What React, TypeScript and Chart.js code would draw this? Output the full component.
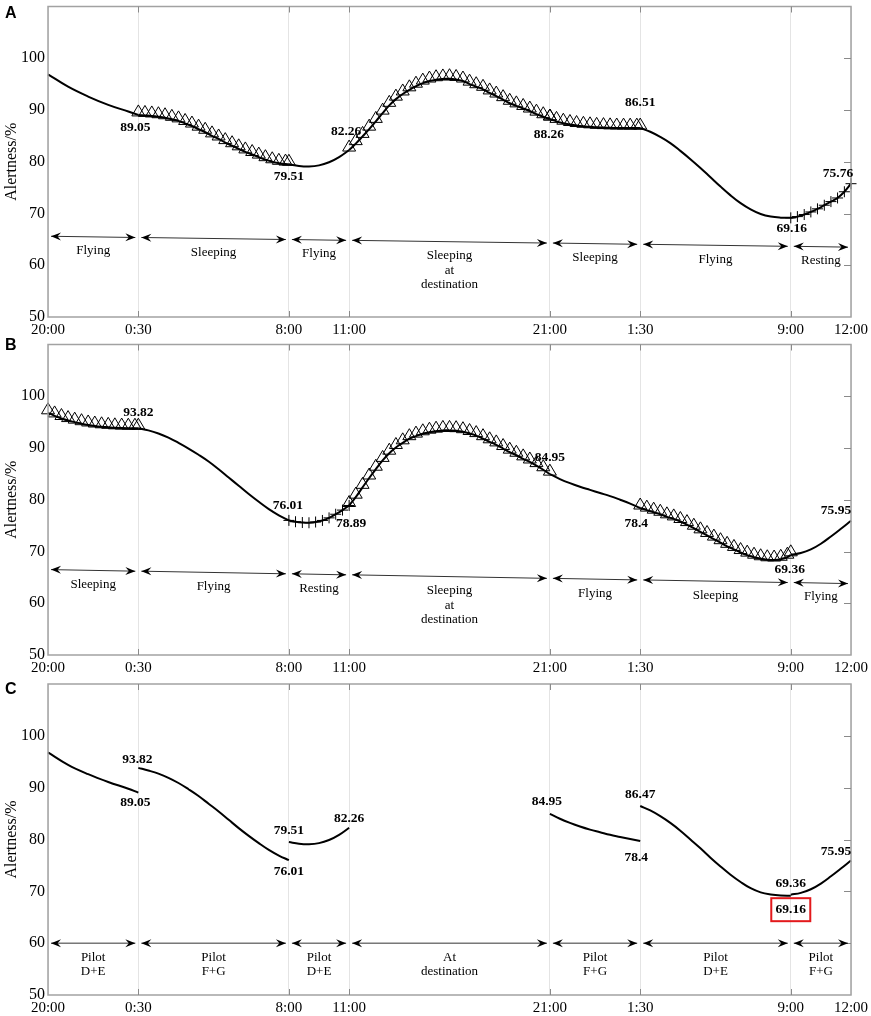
import React, { useEffect, useRef } from 'react';
import { Chart, registerables } from 'chart.js';

Chart.register(...registerables);

// x axis is hours counted from 20:00 on day one
const xTickHours = [0, 4.5, 12, 15, 25, 29.5, 37, 40];
const xTickLabels = ['20:00', '0:30', '8:00', '11:00', '21:00', '1:30', '9:00', '12:00'];
const yTickValues = [50, 60, 70, 80, 90, 100];

// ---- panel A ----
const aFly1Hours = [0, 1, 2, 3, 4, 4.5];
const aFly1Values = [96.9, 94.5, 92.6, 91.0, 89.7, 89.05];
const aSleep1Hours = [4.5, 4.83, 5.17, 5.5, 5.83, 6.17, 6.5, 6.83, 7.17, 7.5, 7.83, 8.17, 8.5, 8.83, 9.17, 9.5, 9.83, 10.17, 10.5, 10.83, 11.17, 11.5, 11.83, 12];
const aSleep1Values = [89.05, 88.95, 88.85, 88.7, 88.5, 88.2, 87.9, 87.4, 86.9, 86.3, 85.7, 85.0, 84.4, 83.7, 83.1, 82.5, 81.9, 81.4, 80.9, 80.4, 80.0, 79.7, 79.55, 79.51];
const aFly2Hours = [12, 12.5, 13, 13.5, 14, 14.5, 15];
const aFly2Values = [79.51, 79.2, 79.1, 79.3, 79.9, 80.9, 82.26];
const aSleep2Hours = [15, 15.33, 15.67, 16, 16.33, 16.67, 17, 17.33, 17.67, 18, 18.33, 18.67, 19, 19.33, 19.67, 20, 20.33, 20.67, 21, 21.33, 21.67, 22, 22.33, 22.67, 23, 23.33, 23.67, 24, 24.33, 24.67, 25];
const aSleep2Values = [82.26, 83.5, 84.9, 86.3, 87.8, 89.4, 90.9, 92.1, 93.1, 93.9, 94.6, 95.2, 95.6, 95.85, 96.0, 96.05, 95.9, 95.6, 95.0, 94.5, 94.0, 93.3, 92.7, 92.0, 91.3, 90.8, 90.3, 89.8, 89.2, 88.7, 88.26];
const aSleep3Hours = [25, 25.33, 25.67, 26, 26.33, 26.67, 27, 27.33, 27.67, 28, 28.33, 28.67, 29, 29.33, 29.5];
const aSleep3Values = [88.26, 87.8, 87.45, 87.2, 87.0, 86.85, 86.75, 86.65, 86.6, 86.55, 86.52, 86.5, 86.5, 86.5, 86.51];
const aFly3Hours = [29.5, 30, 30.5, 31, 31.5, 32, 32.5, 33, 33.5, 34, 34.5, 35, 35.5, 36, 36.5, 37];
const aFly3Values = [86.51, 85.8, 84.8, 83.6, 82.1, 80.5, 78.8, 77.0, 75.2, 73.5, 72.0, 70.8, 69.9, 69.4, 69.2, 69.16];
const aRestHours = [37, 37.33, 37.67, 38, 38.33, 38.67, 39, 39.33, 39.67, 40];
const aRestValues = [69.16, 69.4, 69.8, 70.3, 70.9, 71.6, 72.3, 73.0, 74.2, 75.76];
const aPhases = ['Flying', 'Sleeping', 'Flying', 'Sleeping\nat\ndestination', 'Sleeping', 'Flying', 'Resting'];

// ---- panel B ----
const bSleep1Hours = [0, 0.33, 0.67, 1, 1.33, 1.67, 2, 2.33, 2.67, 3, 3.33, 3.67, 4, 4.33, 4.5];
const bSleep1Values = [96.8, 96.2, 95.7, 95.3, 95.0, 94.7, 94.45, 94.25, 94.1, 94.0, 93.9, 93.85, 93.82, 93.82, 93.82];
const bFly1Hours = [4.5, 5, 5.5, 6, 6.5, 7, 7.5, 8, 8.5, 9, 9.5, 10, 10.5, 11, 11.5, 12];
const bFly1Values = [93.82, 93.4, 92.8, 92.0, 91.0, 89.9, 88.7, 87.4, 85.9, 84.3, 82.7, 81.1, 79.6, 78.2, 77.0, 76.01];
const bRestHours = [12, 12.33, 12.67, 13, 13.33, 13.67, 14, 14.33, 14.67, 15];
const bRestValues = [76.01, 75.75, 75.6, 75.55, 75.7, 76.0, 76.5, 77.2, 78.0, 78.89];
const bSleep2Hours = [15, 15.33, 15.67, 16, 16.33, 16.67, 17, 17.33, 17.67, 18, 18.33, 18.67, 19, 19.33, 19.67, 20, 20.33, 20.67, 21, 21.33, 21.67, 22, 22.33, 22.67, 23, 23.33, 23.67, 24, 24.33, 24.67, 25];
const bSleep2Values = [78.89, 80.5, 82.4, 84.2, 85.9, 87.6, 89.0, 90.1, 91.0, 91.8, 92.3, 92.75, 93.05, 93.25, 93.4, 93.4, 93.35, 93.15, 92.8, 92.4, 91.8, 91.2, 90.6, 89.9, 89.2, 88.6, 87.9, 87.3, 86.6, 85.8, 84.95];
const bFly2Hours = [25, 25.5, 26, 26.5, 27, 27.5, 28, 28.5, 29, 29.5];
const bFly2Values = [84.95, 84.0, 83.2, 82.5, 81.9, 81.3, 80.7, 80.0, 79.25, 78.4];
const bSleep3Hours = [29.5, 29.83, 30.17, 30.5, 30.83, 31.17, 31.5, 31.83, 32.17, 32.5, 32.83, 33.17, 33.5, 33.83, 34.17, 34.5, 34.83, 35.17, 35.5, 35.83, 36.17, 36.5, 36.83, 37];
const bSleep3Values = [78.4, 78.0, 77.6, 77.2, 76.7, 76.3, 75.8, 75.2, 74.5, 73.8, 73.1, 72.4, 71.7, 71.0, 70.4, 69.8, 69.3, 68.9, 68.6, 68.4, 68.35, 68.5, 68.9, 69.36];
const bFly3Hours = [37, 37.5, 38, 38.5, 39, 39.5, 40];
const bFly3Values = [69.36, 69.7, 70.4, 71.5, 72.9, 74.4, 75.95];
const bPhases = ['Sleeping', 'Flying', 'Resting', 'Sleeping\nat\ndestination', 'Flying', 'Sleeping', 'Flying'];

// ---- panel C ----
const c1Hours = [0, 1, 2, 3, 4, 4.5];
const c1Values = [96.8, 94.4, 92.6, 91.1, 89.8, 89.05];
const c2Hours = [4.5, 5, 5.5, 6, 6.5, 7, 7.5, 8, 8.5, 9, 9.5, 10, 10.5, 11, 11.5, 12];
const c2Values = [93.82, 93.3, 92.7, 91.9, 90.9, 89.7, 88.4, 86.9, 85.4, 83.8, 82.2, 80.7, 79.3, 78.0, 76.9, 76.01];
const c3Hours = [12, 12.5, 13, 13.5, 14, 14.5, 15];
const c3Values = [79.51, 79.2, 79.1, 79.3, 79.9, 80.9, 82.26];
const c4Hours = [25, 25.5, 26, 26.5, 27, 27.5, 28, 28.5, 29, 29.5];
const c4Values = [84.95, 84.0, 83.2, 82.5, 81.9, 81.4, 80.9, 80.5, 80.1, 79.7];
const c5Hours = [29.5, 30, 30.5, 31, 31.5, 32, 32.5, 33, 33.5, 34, 34.5, 35, 35.5, 36, 36.5, 37];
const c5Values = [86.47, 85.6, 84.5, 83.2, 81.7, 80.0, 78.3, 76.5, 74.8, 73.2, 71.8, 70.6, 69.8, 69.4, 69.2, 69.16];
const c6Hours = [37, 37.5, 38, 38.5, 39, 39.5, 40];
const c6Values = [69.36, 69.7, 70.4, 71.5, 72.9, 74.4, 75.95];
const cPhases = ['Pilot\nD+E', 'Pilot\nF+G', 'Pilot\nD+E', 'At\ndestination', 'Pilot\nF+G', 'Pilot\nD+E', 'Pilot\nF+G'];

type Marker = 'none' | 'triangle' | 'cross';
type Segment = { hours: number[]; values: number[]; marker: Marker };
type Note = { text: string; at: number; dx: number; dy: number; boxed?: boolean };
type Panel = {
  letter: string;
  letterDy: number;
  top: number;
  segments: Segment[];
  phases: string[];
  arrowFrom: number;
  arrowTo: number;
  notes: Note[];
};

const panels: Panel[] = [
  {
    letter: 'A', letterDy: 7.5, top: 0,
    segments: [
      { hours: aFly1Hours, values: aFly1Values, marker: 'none' },
      { hours: aSleep1Hours, values: aSleep1Values, marker: 'triangle' },
      { hours: aFly2Hours, values: aFly2Values, marker: 'none' },
      { hours: aSleep2Hours, values: aSleep2Values, marker: 'triangle' },
      { hours: aSleep3Hours, values: aSleep3Values, marker: 'triangle' },
      { hours: aFly3Hours, values: aFly3Values, marker: 'none' },
      { hours: aRestHours, values: aRestValues, marker: 'cross' },
    ],
    phases: aPhases, arrowFrom: 65.6, arrowTo: 63.5,
    notes: [
      { text: '89.05', at: 4.5, dx: -3, dy: 13 },
      { text: '79.51', at: 12, dx: 0, dy: 12 },
      { text: '82.26', at: 15, dx: -3, dy: -19 },
      { text: '88.26', at: 25, dx: -1, dy: 16 },
      { text: '86.51', at: 29.5, dx: 0, dy: -26 },
      { text: '69.16', at: 37, dx: 1, dy: 11 },
      { text: '75.76', at: 40, dx: -13, dy: -10 },
    ],
  },
  {
    letter: 'B', letterDy: 1.5, top: 338,
    segments: [
      { hours: bSleep1Hours, values: bSleep1Values, marker: 'triangle' },
      { hours: bFly1Hours, values: bFly1Values, marker: 'none' },
      { hours: bRestHours, values: bRestValues, marker: 'cross' },
      { hours: bSleep2Hours, values: bSleep2Values, marker: 'triangle' },
      { hours: bFly2Hours, values: bFly2Values, marker: 'none' },
      { hours: bSleep3Hours, values: bSleep3Values, marker: 'triangle' },
      { hours: bFly3Hours, values: bFly3Values, marker: 'none' },
    ],
    phases: bPhases, arrowFrom: 66.5, arrowTo: 63.8,
    notes: [
      { text: '93.82', at: 4.5, dx: 0, dy: -16 },
      { text: '76.01', at: 12, dx: -1, dy: -15 },
      { text: '78.89', at: 15, dx: 2, dy: 18 },
      { text: '84.95', at: 25, dx: 0, dy: -17 },
      { text: '78.4', at: 29.5, dx: -4, dy: 15 },
      { text: '69.36', at: 37, dx: -1, dy: 15 },
      { text: '75.95', at: 40, dx: -15, dy: -10 },
    ],
  },
  {
    letter: 'C', letterDy: 5.5, top: 678,
    segments: [
      { hours: c1Hours, values: c1Values, marker: 'none' },
      { hours: c2Hours, values: c2Values, marker: 'none' },
      { hours: c3Hours, values: c3Values, marker: 'none' },
      { hours: c4Hours, values: c4Values, marker: 'none' },
      { hours: c5Hours, values: c5Values, marker: 'none' },
      { hours: c6Hours, values: c6Values, marker: 'none' },
    ],
    phases: cPhases, arrowFrom: 60, arrowTo: 60,
    notes: [
      { text: '93.82', at: 4.5, dx: -1, dy: -8 },
      { text: '89.05', at: 4.5, dx: -3, dy: 10 },
      { text: '79.51', at: 12, dx: 0, dy: -12 },
      { text: '76.01', at: 12, dx: 0, dy: 11 },
      { text: '82.26', at: 15, dx: 0, dy: -9 },
      { text: '84.95', at: 25, dx: -3, dy: -12 },
      { text: '78.4', at: 29.5, dx: -4, dy: 10 },
      { text: '86.47', at: 29.5, dx: 0, dy: -11 },
      { text: '69.36', at: 37, dx: 0, dy: -11 },
      { text: '69.16', at: 37, dx: 0, dy: 14, boxed: true },
      { text: '75.95', at: 40, dx: -15, dy: -9 },
    ],
  },
];

const serif = '"Liberation Serif", "Times New Roman", serif';

function arrowHead(ctx: CanvasRenderingContext2D, x: number, y: number, ang: number) {
  ctx.save();
  ctx.translate(x, y);
  ctx.rotate(ang);
  ctx.beginPath();
  ctx.moveTo(0, 0);
  ctx.lineTo(-10, -4);
  ctx.lineTo(-6.5, 0);
  ctx.lineTo(-10, 4);
  ctx.closePath();
  ctx.fill();
  ctx.restore();
}

function decorPlugin(panel: Panel) {
  return {
    id: 'decor' + panel.letter,
    afterDatasetsDraw(chart: any) {
      // open triangles sitting on the curve (MATLAB '^' look)
      const { ctx } = chart;
      ctx.save();
      ctx.strokeStyle = '#000';
      ctx.lineWidth = 1;
      panel.segments.forEach((s, i) => {
        if (s.marker !== 'triangle') return;
        chart.getDatasetMeta(i).data.forEach((pt: any) => {
          const x = pt.x;
          const y = pt.y + 1;
          ctx.beginPath();
          ctx.moveTo(x, y - 11);
          ctx.lineTo(x + 6.5, y);
          ctx.lineTo(x - 6.5, y);
          ctx.closePath();
          ctx.stroke();
        });
      });
      ctx.restore();
    },
    afterDraw(chart: any) {
      const { ctx, chartArea: a, scales } = chart;
      const xs = scales.x;
      const ys = scales.y;
      ctx.save();

      // box and inward ticks
      ctx.strokeStyle = '#a2a2a2';
      ctx.lineWidth = 1.5;
      ctx.strokeRect(a.left, a.top, a.right - a.left, a.bottom - a.top);
      ctx.lineWidth = 1;
      ctx.strokeStyle = '#8a8a8a';
      ctx.beginPath();
      xTickHours.slice(1, -1).forEach((h) => {
        const px = Math.round(xs.getPixelForValue(h)) + 0.5;
        ctx.moveTo(px, a.top);
        ctx.lineTo(px, a.top + 6);
        ctx.moveTo(px, a.bottom);
        ctx.lineTo(px, a.bottom - 6);
      });
      yTickValues.slice(1).forEach((v) => {
        const py = Math.round(ys.getPixelForValue(v)) + 0.5;
        ctx.moveTo(a.right, py);
        ctx.lineTo(a.right - 7, py);
      });
      ctx.stroke();

      // phase arrows
      const level = (h: number) => panel.arrowFrom + ((panel.arrowTo - panel.arrowFrom) * h) / 40;
      ctx.strokeStyle = '#333';
      ctx.fillStyle = '#000';
      ctx.font = `13px ${serif}`;
      ctx.textAlign = 'center';
      ctx.textBaseline = 'middle';
      panel.phases.forEach((label, i) => {
        const h1 = xTickHours[i];
        const h2 = xTickHours[i + 1];
        const x1 = xs.getPixelForValue(h1) + 3;
        const x2 = xs.getPixelForValue(h2) - 3;
        const y1 = ys.getPixelForValue(level(h1));
        const y2 = ys.getPixelForValue(level(h2));
        ctx.beginPath();
        ctx.moveTo(x1, y1);
        ctx.lineTo(x2, y2);
        ctx.stroke();
        const ang = Math.atan2(y2 - y1, x2 - x1);
        arrowHead(ctx, x2, y2, ang);
        arrowHead(ctx, x1, y1, ang + Math.PI);
        const cx = (x1 + x2) / 2;
        const cy = (y1 + y2) / 2 + 14;
        label.split('\n').forEach((line, k) => ctx.fillText(line, cx, cy + k * 14.5));
      });

      // value notes
      ctx.font = `bold 13.5px ${serif}`;
      panel.notes.forEach((n) => {
        const px = xs.getPixelForValue(n.at) + n.dx;
        const py = ys.getPixelForValue(parseFloat(n.text)) + n.dy;
        ctx.fillStyle = '#000';
        ctx.fillText(n.text, px, py);
        if (n.boxed) {
          ctx.strokeStyle = '#e3191c';
          ctx.lineWidth = 2;
          ctx.strokeRect(px - 19.5, py - 11.5, 39, 23);
        }
      });

      // y title
      ctx.fillStyle = '#000';
      ctx.font = `16px ${serif}`;
      ctx.save();
      ctx.translate(12, (a.top + a.bottom) / 2);
      ctx.rotate(-Math.PI / 2);
      ctx.fillText('Alertness/%', 0, 0);
      ctx.restore();

      // panel letter
      ctx.font = 'bold 16px "Liberation Sans", Arial, sans-serif';
      ctx.textAlign = 'left';
      ctx.fillText(panel.letter, 5, a.top + panel.letterDy);
      ctx.restore();
    },
  };
}

function PanelChart({ panel }: { panel: Panel }) {
  const canvasRef = useRef<HTMLCanvasElement>(null);

  useEffect(() => {
    if (!canvasRef.current) return;

    const datasets = panel.segments.map((s) => ({
      data: s.hours.map((h, i) => ({ x: h, y: s.values[i] })),
      borderColor: '#000',
      borderWidth: 2,
      backgroundColor: 'transparent',
      tension: 0.4,
      fill: false,
      clip: false as const,
      pointStyle: s.marker === 'cross' ? 'cross' : 'circle',
      pointRadius: s.marker === 'cross' ? 5.5 : 0,
      pointHoverRadius: s.marker === 'cross' ? 5.5 : 0,
      pointBorderColor: '#000',
      pointBorderWidth: 1,
    }));

    const chart = new Chart(canvasRef.current, {
      type: 'line',
      data: { datasets: datasets as any },
      options: {
        responsive: false,
        animation: false,
        layout: { padding: { top: 6, right: 20, left: 0, bottom: 0 } },
        plugins: { legend: { display: false }, tooltip: { enabled: false } },
        scales: {
          x: {
            type: 'linear',
            min: 0,
            max: 40,
            afterBuildTicks: (scale: any) => {
              scale.ticks = xTickHours.map((v) => ({ value: v }));
            },
            afterFit: (scale: any) => {
              scale.height = 21;
              scale.paddingLeft = 0;
              scale.paddingRight = 0;
            },
            ticks: {
              autoSkip: false,
              maxRotation: 0,
              minRotation: 0,
              padding: 4,
              color: '#000',
              font: { family: serif, size: 15 },
              callback: (value: any) => xTickLabels[xTickHours.indexOf(Number(value))],
            },
            grid: { color: '#e4e4e4', lineWidth: 1, drawTicks: false },
            border: { display: false },
          },
          y: {
            type: 'linear',
            min: 50,
            max: 110,
            afterBuildTicks: (scale: any) => {
              scale.ticks = yTickValues.map((v) => ({ value: v }));
            },
            afterFit: (scale: any) => {
              scale.width = 48;
              scale.paddingTop = 0;
              scale.paddingBottom = 0;
            },
            ticks: {
              padding: 3,
              color: '#000',
              font: { family: serif, size: 16 },
              callback: (value: any) => String(value),
            },
            grid: { display: false, drawTicks: false },
            border: { display: false },
          },
        },
      },
      plugins: [decorPlugin(panel)],
    });

    return () => chart.destroy();
  }, [panel]);

  return <canvas ref={canvasRef} width={871} height={338} style={{ display: 'block' }} />;
}

export default function App() {
  return (
    <div style={{ position: 'absolute', left: 0, top: 0, width: 871, height: 1016, background: '#fff' }}>
      {panels.map((p) => (
        <div key={p.letter} style={{ position: 'absolute', left: 0, top: p.top }}>
          <PanelChart panel={p} />
        </div>
      ))}
    </div>
  );
}
